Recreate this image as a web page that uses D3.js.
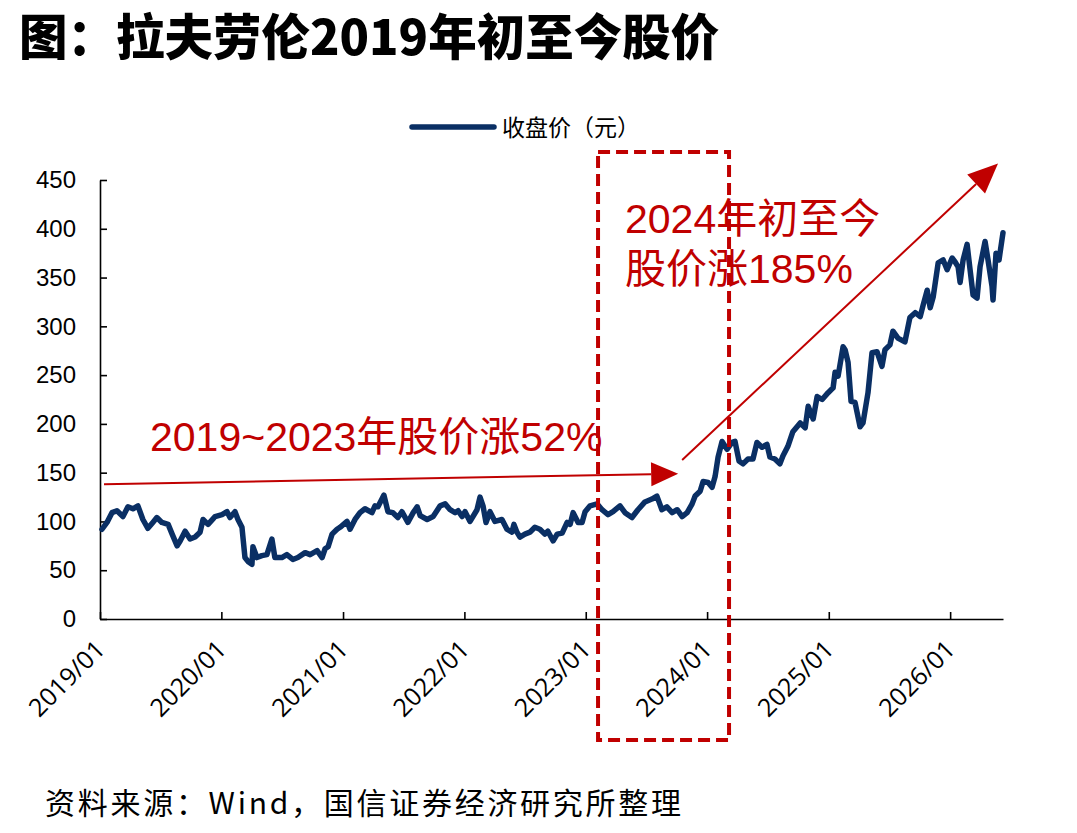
<!DOCTYPE html>
<html>
<head>
<meta charset="utf-8">
<script src="https://cdn.jsdelivr.net/npm/d3@7"></script>
<style>
  body { margin: 0; background: #fff; }
  svg { display: block; }
</style>
</head>
<body>
<div id="chart"></div>
<script>
// closing prices of Ralph Lauren
const dates = [
  "2019-01-07","2019-01-22","2019-02-06","2019-02-21","2019-03-11","2019-03-26","2019-04-10","2019-04-25",
  "2019-05-10","2019-05-25","2019-06-09","2019-06-21","2019-07-06","2019-07-25","2019-08-06","2019-08-21",
  "2019-08-30","2019-09-14","2019-09-29","2019-10-14","2019-10-29","2019-11-07","2019-11-22","2019-12-13",
  "2020-01-03","2020-01-18","2020-01-27","2020-02-11","2020-02-20","2020-03-03","2020-03-12","2020-03-21",
  "2020-04-02","2020-04-05","2020-04-17","2020-05-02","2020-05-17","2020-06-01","2020-06-10","2020-07-01",
  "2020-07-16","2020-08-03","2020-08-18","2020-09-09","2020-09-24","2020-10-15","2020-10-30","2020-11-08",
  "2020-11-17","2020-11-29","2020-12-14","2020-12-23","2021-01-13","2021-01-22","2021-02-06","2021-02-21",
  "2021-03-08","2021-03-29","2021-04-07","2021-04-16","2021-04-28","2021-05-04","2021-05-16","2021-05-31",
  "2021-06-15","2021-06-27","2021-07-15","2021-07-31","2021-08-12","2021-08-21","2021-09-11","2021-09-29",
  "2021-10-20","2021-11-04","2021-11-19","2021-12-04","2021-12-13","2021-12-25","2022-01-03","2022-01-18",
  "2022-02-08","2022-02-17","2022-02-26","2022-03-07","2022-03-19","2022-04-03","2022-04-24","2022-05-09",
  "2022-05-24","2022-05-30","2022-06-08","2022-06-17","2022-07-02","2022-07-17","2022-08-01","2022-08-16",
  "2022-08-31","2022-09-09","2022-09-25","2022-10-07","2022-10-22","2022-11-06","2022-11-15","2022-11-24",
  "2022-12-09","2022-12-21","2022-12-30","2023-01-14","2023-02-04","2023-02-19","2023-03-09","2023-03-24",
  "2023-04-14","2023-04-29","2023-05-20","2023-06-07","2023-06-28","2023-07-19","2023-08-03","2023-08-18",
  "2023-09-02","2023-09-18","2023-10-03","2023-10-18","2023-11-02","2023-11-17","2023-11-26","2023-12-11",
  "2023-12-20","2024-01-04","2024-01-16","2024-01-25","2024-02-03","2024-02-15","2024-03-01","2024-03-16",
  "2024-03-25","2024-04-06","2024-04-18","2024-05-03","2024-05-18","2024-05-30","2024-06-14","2024-06-29",
  "2024-07-08","2024-07-23","2024-08-07","2024-08-16","2024-08-31","2024-09-15","2024-10-07","2024-10-22",
  "2024-10-31","2024-11-15","2024-11-27","2024-12-12","2024-12-30","2025-01-14","2025-01-20","2025-01-29",
  "2025-02-13","2025-02-19","2025-02-28","2025-03-09","2025-03-21","2025-04-05","2025-04-14","2025-04-29",
  "2025-05-11","2025-05-26","2025-06-10","2025-06-19","2025-07-04","2025-07-13","2025-07-28","2025-08-18",
  "2025-09-02","2025-09-18","2025-10-03","2025-10-12","2025-10-24","2025-11-02","2025-11-11","2025-11-26",
  "2025-12-11","2025-12-23","2026-01-07","2026-01-16","2026-01-25","2026-01-31","2026-02-09","2026-02-21",
  "2026-03-02","2026-03-11","2026-03-23","2026-04-01","2026-04-16","2026-04-25","2026-05-07","2026-05-10",
  "2026-05-19","2026-05-28","2026-06-09"
];
const closes = [
  92, 99, 109, 111, 105, 115, 113, 116,
  102, 93, 99, 104, 99, 97, 87, 75,
  80, 90, 82, 84, 89, 102, 97, 105,
  107, 110, 104, 110, 102, 94, 63, 59,
  56, 74, 63, 65, 66, 82, 63, 63,
  66, 61, 63, 68, 66, 70, 63, 72,
  74, 87, 92, 94, 100, 92, 102, 109,
  113, 109, 116, 115, 123, 127, 110, 109,
  104, 110, 99, 109, 115, 106, 102, 105,
  116, 118, 112, 109, 111, 105, 110, 100,
  112, 125, 116, 99, 110, 100, 102, 92,
  89, 97, 89, 84, 87, 89, 94, 92,
  87, 90, 80, 87, 88, 99, 97, 109,
  99, 99, 110, 116, 118, 112, 107, 110,
  116, 109, 104, 112, 120, 123, 126, 112,
  115, 109, 112, 105, 109, 118, 126, 131,
  141, 140, 135, 146, 166, 182, 174, 181,
  182, 162, 159, 164, 164, 181, 176, 179,
  166, 164, 159, 167, 177, 192, 201, 196,
  218, 205, 228, 225, 232, 237, 253, 249,
  279, 276, 263, 223, 222, 197, 201, 232,
  273, 274, 259, 276, 281, 295, 288, 284,
  309, 314, 310, 322, 337, 319, 330, 365,
  368, 358, 370, 366, 361, 345, 368, 384,
  358, 332, 329, 361, 387, 368, 341, 327,
  375, 368, 396
];
const yTicks = [0, 50, 100, 150, 200, 250, 300, 350, 400, 450];
const seriesName = "收盘价（元）";
const titleText = "图：拉夫劳伦2019年初至今股价";
const sourceText = "资料来源：Wind，国信证券经济研究所整理";
const note1 = "2019~2023年股价涨52%";
const note2 = ["2024年初至今", "股价涨185%"];

const W = 1077, H = 833;
const navy = "#0a2f64", red = "#c00000";
const parse = d3.timeParse("%Y-%m-%d");
const data = dates.map((d, i) => ({ date: parse(d), value: closes[i] }));

const svg = d3.select("#chart").append("svg")
    .attr("width", W)
    .attr("height", H);

const x = d3.scaleTime()
    .domain([parse("2019-01-01"), parse("2026-06-09")])
    .range([100, 1003]);

const y = d3.scaleLinear()
    .domain([0, 450])
    .range([619, 180]);

// title
svg.append("text")
    .attr("x", 19)
    .attr("y", 55)
    .attr("font-family", "'Noto Sans CJK SC', sans-serif")
    .attr("font-weight", 900)
    .attr("font-size", 48.5)
    .text(titleText);

// legend
svg.append("line")
    .attr("x1", 412).attr("x2", 494)
    .attr("y1", 127).attr("y2", 127)
    .attr("stroke", navy)
    .attr("stroke-width", 5.5)
    .attr("stroke-linecap", "round");
svg.append("text")
    .attr("x", 502)
    .attr("y", 136)
    .attr("font-family", "'Noto Sans CJK SC', sans-serif")
    .attr("font-size", 23)
    .text(seriesName);

// y axis
const yAxis = svg.append("g")
    .attr("transform", "translate(100,0)")
    .call(d3.axisLeft(y).tickValues(yTicks).tickSizeInner(-7).tickSizeOuter(0).tickPadding(24));
yAxis.selectAll("text")
    .attr("font-family", "'Liberation Sans', Arial, sans-serif")
    .attr("font-size", 24)
    .attr("fill", "#000");

// x axis
const xAxis = svg.append("g")
    .attr("transform", "translate(0,619)")
    .call(d3.axisBottom(x).ticks(d3.timeYear.every(1)).tickSizeInner(-7).tickSizeOuter(0).tickFormat(""));

xAxis.selectAll(".tick")
    .append("text")
    .attr("transform", "translate(6,32) rotate(-45)")
    .attr("text-anchor", "end")
    .attr("font-family", "'Open Sans', 'Noto Sans', sans-serif")
    .attr("font-size", 25)
    .attr("fill", "#000")
    .text(d => d3.timeFormat("%Y/%m")(d));

svg.selectAll(".domain, .tick line")
    .attr("stroke", "#000")
    .attr("stroke-width", 1.6);

// price line
svg.append("path")
    .datum(data)
    .attr("fill", "none")
    .attr("stroke", navy)
    .attr("stroke-width", 5.5)
    .attr("stroke-linejoin", "round")
    .attr("stroke-linecap", "round")
    .attr("d", d3.line().x(d => x(d.date)).y(d => y(d.value)));

// dashed box around 2023/02 - 2024/03
const boxL = x(parse("2023-02-07")), boxR = x(parse("2024-03-07"));
svg.append("rect")
    .attr("x", boxL)
    .attr("y", 152)
    .attr("width", boxR - boxL)
    .attr("height", 588)
    .attr("fill", "none")
    .attr("stroke", red)
    .attr("stroke-width", 4)
    .attr("stroke-dasharray", "12 6");

// arrows
function arrow(x1, y1, x2, y2, len, half) {
    const a = Math.atan2(y2 - y1, x2 - x1);
    const bx = x2 - len * Math.cos(a), by = y2 - len * Math.sin(a);
    svg.append("line")
        .attr("x1", x1).attr("y1", y1)
        .attr("x2", bx).attr("y2", by)
        .attr("stroke", red)
        .attr("stroke-width", 2);
    const px = -Math.sin(a) * half, py = Math.cos(a) * half;
    svg.append("path")
        .attr("d", `M${x2},${y2}L${bx + px},${by + py}L${bx - px},${by - py}Z`)
        .attr("fill", red);
}
arrow(x(parse("2019-01-13")), y(138), x(parse("2023-10-06")), y(149), 27, 12);
arrow(x(parse("2023-10-18")), y(163), x(parse("2026-05-25")), y(467), 30, 13);

// notes
const noteFont = "'Liberation Sans', Arial, 'Noto Sans CJK SC', sans-serif";
svg.append("text")
    .attr("x", 150)
    .attr("y", 451)
    .attr("font-family", noteFont)
    .attr("font-size", 41)
    .attr("fill", red)
    .text(note1);
svg.append("g")
    .selectAll("text")
    .data(note2)
    .join("text")
    .attr("x", 625)
    .attr("y", (d, i) => 233 + i * 50)
    .attr("font-family", noteFont)
    .attr("font-size", 41)
    .attr("fill", red)
    .text(d => d);

// source
svg.append("text")
    .attr("x", 45)
    .attr("y", 814)
    .attr("font-family", "'Noto Sans CJK SC', sans-serif")
    .attr("font-size", 30)
    .attr("textLength", 636)
    .text(sourceText);
</script>
</body>
</html>
